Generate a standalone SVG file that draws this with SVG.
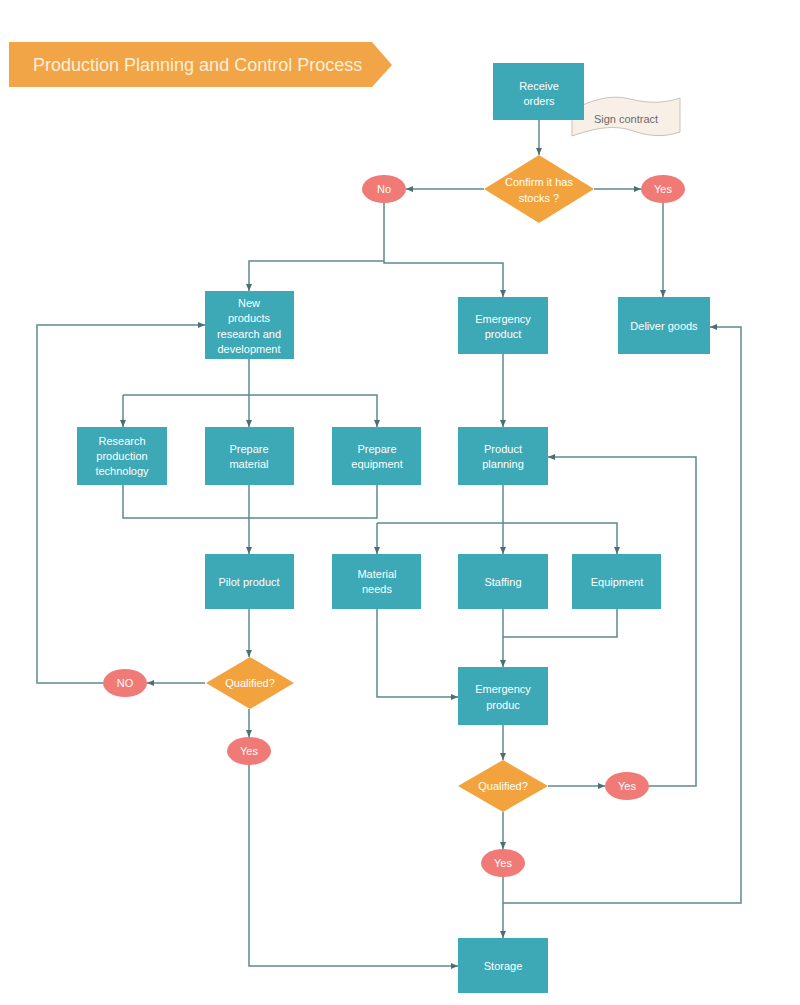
<svg xmlns="http://www.w3.org/2000/svg" width="800" height="1005" viewBox="0 0 800 1005">
<defs>
<marker id="arr" markerWidth="8" markerHeight="8" refX="7" refY="4" orient="auto" markerUnits="userSpaceOnUse">
<path d="M0,1 L7,4 L0,7 Z" fill="#4d6f74"/>
</marker>
<style>
.box{fill:#3da8b6;}
.dia{fill:#f2a33d;}
.ell{fill:#f07b76;}
.t{font-family:"Liberation Sans",Arial,sans-serif;font-size:11px;fill:#ffffff;text-anchor:middle;}
.c{fill:none;stroke:#5e8a90;stroke-width:1.5;}
.a{marker-end:url(#arr);}
</style>
</defs>
<rect width="800" height="1005" fill="#ffffff"/>

<g id="title">
<path d="M9,42 L372,42 L392,65 L372,87 L9,87 Z" fill="#f2a547"/>
<text x="33" y="71" style="font-family:'Liberation Sans',Arial,sans-serif;font-size:18px;fill:#fdefd9;">Production Planning and Control Process</text>
</g>

<g id="connectors">
<path class="c a" d="M539,120 L539,155"/>
<path class="c a" d="M484,189 L406,189"/>
<path class="c a" d="M594,189 L641,189"/>
<path class="c a" d="M663,203 L663,297"/>
<path class="c a" d="M384,203 L384,261 L249,261 L249,291"/>
<path class="c a" d="M384,261 L384,263 L503,263 L503,297"/>
<path class="c" d="M249,359 L249,395"/>
<path class="c a" d="M123,395 L123,427"/>
<path class="c a" d="M249,395 L249,427"/>
<path class="c a" d="M123,395 L377,395 L377,427"/>
<path class="c" d="M123,485 L123,518 L377,518 L377,485"/>
<path class="c a" d="M249,485 L249,554"/>
<path class="c a" d="M503,354 L503,427"/>
<path class="c a" d="M503,485 L503,554"/>
<path class="c a" d="M377,523 L377,554"/>
<path class="c a" d="M377,523 L617,523 L617,554"/>
<path class="c a" d="M503,609 L503,667"/>
<path class="c" d="M617,609 L617,637 L503,637"/>
<path class="c a" d="M377,609 L377,697 L458,697"/>
<path class="c a" d="M503,725 L503,760"/>
<path class="c a" d="M548,786 L605,786"/>
<path class="c a" d="M649,786 L696,786 L696,457 L548,457"/>
<path class="c a" d="M503,812 L503,849"/>
<path class="c a" d="M503,877 L503,938"/>
<path class="c a" d="M503,903 L741,903 L741,327 L710,327"/>
<path class="c a" d="M249,609 L249,657"/>
<path class="c a" d="M205,683 L147,683"/>
<path class="c a" d="M103,683 L37,683 L37,325 L205,325"/>
<path class="c a" d="M249,709 L249,737"/>
<path class="c a" d="M249,765 L249,966 L458,966"/>
</g>

<g id="sign-contract">
<path d="M572,110 C592,100 610,94 630,99 C650,104 665,103 680,98 L680,132 C662,138 648,136 630,130 C610,124 590,130 572,136 Z" fill="#f8f0e6" stroke="#c9c2b9" stroke-width="1"/>
<text x="626" y="123" class="t" style="fill:#6a6a6a;">Sign contract</text>
</g>

<g id="receive-orders">
<rect class="box" x="493" y="63" width="91" height="57"/>
<text class="t" x="539" y="90">Receive</text>
<text class="t" x="539" y="105">orders</text>
</g>

<g id="confirm-stocks">
<path class="dia" d="M539,155 L594,189 L539,223 L484,189 Z"/>
<text class="t" x="539" y="186">Confirm it has</text>
<text class="t" x="539" y="202">stocks ?</text>
</g>

<g id="no-top">
<ellipse class="ell" cx="384" cy="189" rx="22" ry="14"/>
<text class="t" x="384" y="193">No</text>
</g>

<g id="yes-top">
<ellipse class="ell" cx="663" cy="189" rx="22" ry="14"/>
<text class="t" x="663" y="193">Yes</text>
</g>

<g id="new-products">
<rect class="box" x="205" y="291" width="89" height="68"/>
<text class="t" x="249" y="307">New</text>
<text class="t" x="249" y="322">products</text>
<text class="t" x="249" y="338">research and</text>
<text class="t" x="249" y="353">development</text>
</g>

<g id="emergency-product">
<rect class="box" x="458" y="297" width="90" height="57"/>
<text class="t" x="503" y="323">Emergency</text>
<text class="t" x="503" y="338">product</text>
</g>

<g id="deliver-goods">
<rect class="box" x="618" y="297" width="92" height="57"/>
<text class="t" x="664" y="330">Deliver goods</text>
</g>

<g id="research-tech">
<rect class="box" x="77" y="427" width="90" height="58"/>
<text class="t" x="122" y="445">Research</text>
<text class="t" x="122" y="460">production</text>
<text class="t" x="122" y="475">technology</text>
</g>

<g id="prepare-material">
<rect class="box" x="205" y="427" width="89" height="58"/>
<text class="t" x="249" y="453">Prepare</text>
<text class="t" x="249" y="468">material</text>
</g>

<g id="prepare-equipment">
<rect class="box" x="332" y="427" width="89" height="58"/>
<text class="t" x="377" y="453">Prepare</text>
<text class="t" x="377" y="468">equipment</text>
</g>

<g id="product-planning">
<rect class="box" x="458" y="427" width="90" height="58"/>
<text class="t" x="503" y="453">Product</text>
<text class="t" x="503" y="468">planning</text>
</g>

<g id="pilot-product">
<rect class="box" x="205" y="554" width="89" height="55"/>
<text class="t" x="249" y="586">Pilot product</text>
</g>

<g id="material-needs">
<rect class="box" x="332" y="554" width="89" height="55"/>
<text class="t" x="377" y="578">Material</text>
<text class="t" x="377" y="593">needs</text>
</g>

<g id="staffing">
<rect class="box" x="458" y="554" width="90" height="55"/>
<text class="t" x="503" y="586">Staffing</text>
</g>

<g id="equipment">
<rect class="box" x="572" y="554" width="89" height="55"/>
<text class="t" x="617" y="586">Equipment</text>
</g>

<g id="qualified-left">
<path class="dia" d="M250,657 L294,683 L250,709 L206,683 Z"/>
<text class="t" x="250" y="687">Qualified?</text>
</g>

<g id="no-left">
<ellipse class="ell" cx="125" cy="683" rx="22" ry="14"/>
<text class="t" x="125" y="687">NO</text>
</g>

<g id="yes-left">
<ellipse class="ell" cx="249" cy="751" rx="22" ry="14"/>
<text class="t" x="249" y="755">Yes</text>
</g>

<g id="emergency-produc">
<rect class="box" x="458" y="667" width="90" height="58"/>
<text class="t" x="503" y="693">Emergency</text>
<text class="t" x="503" y="709">produc</text>
</g>

<g id="qualified-right">
<path class="dia" d="M503,760 L548,786 L503,812 L458,786 Z"/>
<text class="t" x="503" y="790">Qualified?</text>
</g>

<g id="yes-right">
<ellipse class="ell" cx="627" cy="786" rx="22" ry="14"/>
<text class="t" x="627" y="790">Yes</text>
</g>

<g id="yes-bottom">
<ellipse class="ell" cx="503" cy="863" rx="22" ry="14"/>
<text class="t" x="503" y="867">Yes</text>
</g>

<g id="storage">
<rect class="box" x="458" y="938" width="90" height="55"/>
<text class="t" x="503" y="970">Storage</text>
</g>
</svg>
